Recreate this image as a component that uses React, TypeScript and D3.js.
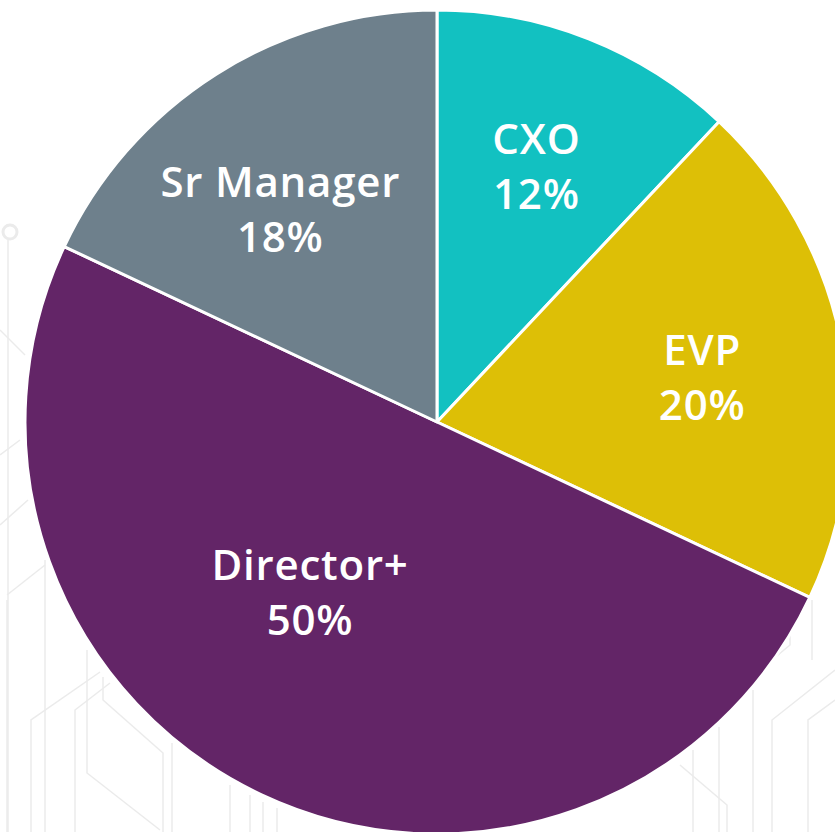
import React from "react";
import * as d3 from "d3";

const categories = ["CXO", "EVP", "Director+", "Sr Manager"];
const values = [12, 20, 50, 18];
const colors = ["#12C1C1", "#DDBF06", "#632567", "#6E808C"];

// label nudges (px) relative to centroid placement
const labelNudge: [number, number][] = [
  [0, -4],
  [0, 6],
  [-12, -74],
  [-12, 15],
];

// decorative faint circuit lines in the background
const decoLines: [number, number][][] = [
  [[8, 240], [8, 832]],
  [[0, 330], [25, 355]],
  [[0, 455], [20, 440]],
  [[0, 525], [28, 500]],
  [[7, 600], [7, 832]],
  [[45, 560], [45, 832]],
  [[7, 595], [45, 565]],
  [[87, 650], [87, 773], [160, 830]],
  [[100, 672], [31, 720], [31, 832]],
  [[110, 683], [75, 710], [75, 832]],
  [[103, 677], [103, 700], [163, 753], [163, 832]],
  [[172, 743], [172, 832]],
  [[230, 785], [230, 832]],
  [[250, 795], [250, 832]],
  [[263, 802], [263, 832]],
  [[277, 808], [277, 832]],
  [[693, 750], [693, 832]],
  [[719, 727], [719, 832]],
  [[680, 765], [727, 805], [727, 832]],
  [[753, 690], [753, 832]],
  [[772, 832], [772, 720], [835, 670]],
  [[790, 620], [790, 645], [760, 670]],
  [[808, 832], [808, 720], [835, 700]],
  [[812, 600], [812, 660]],
];

export default function App() {
  const W = 835;
  const H = 832;
  const cx = 437;
  const cy = 422;
  const R = 412;
  const labelR = 270;

  const pie = d3
    .pie<number>()
    .sort(null)
    .value((d) => d)
    .startAngle(0)
    .endAngle(2 * Math.PI);
  const arcs = pie(values);
  const arc = d3.arc<d3.PieArcDatum<number>>().innerRadius(0).outerRadius(R);
  const labelArc = d3
    .arc<d3.PieArcDatum<number>>()
    .innerRadius(labelR)
    .outerRadius(labelR);
  const line = d3.line();

  return (
    <div style={{ position: "absolute", left: 0, top: 0 }}>
      <svg width={W} height={H} style={{ display: "block" }}>
        <rect x={0} y={0} width={W} height={H} fill="#FFFFFF" />
        <g fill="none" stroke="#EBEBEB" strokeWidth={1.5}>
          {decoLines.map((pts, i) => (
            <path key={i} d={line(pts) || ""} />
          ))}
          <circle cx={10} cy={232} r={7} strokeWidth={3} />
        </g>
        <g transform={`translate(${cx},${cy})`}>
          {arcs.map((a, i) => (
            <path
              key={categories[i]}
              d={arc(a) || ""}
              fill={colors[i]}
              stroke="#FFFFFF"
              strokeWidth={3}
              strokeLinejoin="round"
            />
          ))}
          {arcs.map((a, i) => {
            const [lx, ly] = labelArc.centroid(a);
            const x = lx + labelNudge[i][0];
            const y = ly + labelNudge[i][1];
            return (
              <text
                key={"l" + i}
                x={x}
                y={y}
                textAnchor="middle"
                fill="#FFFFFF"
                fontFamily="'Open Sans', 'Liberation Sans', sans-serif"
                fontWeight={600}
                fontSize={42}
                letterSpacing={0.8}
              >
                <tspan x={x} y={y - 12.5}>
                  {categories[i]}
                </tspan>
                <tspan x={x} y={y + 42.5}>
                  {values[i] + "%"}
                </tspan>
              </text>
            );
          })}
        </g>
      </svg>
    </div>
  );
}
